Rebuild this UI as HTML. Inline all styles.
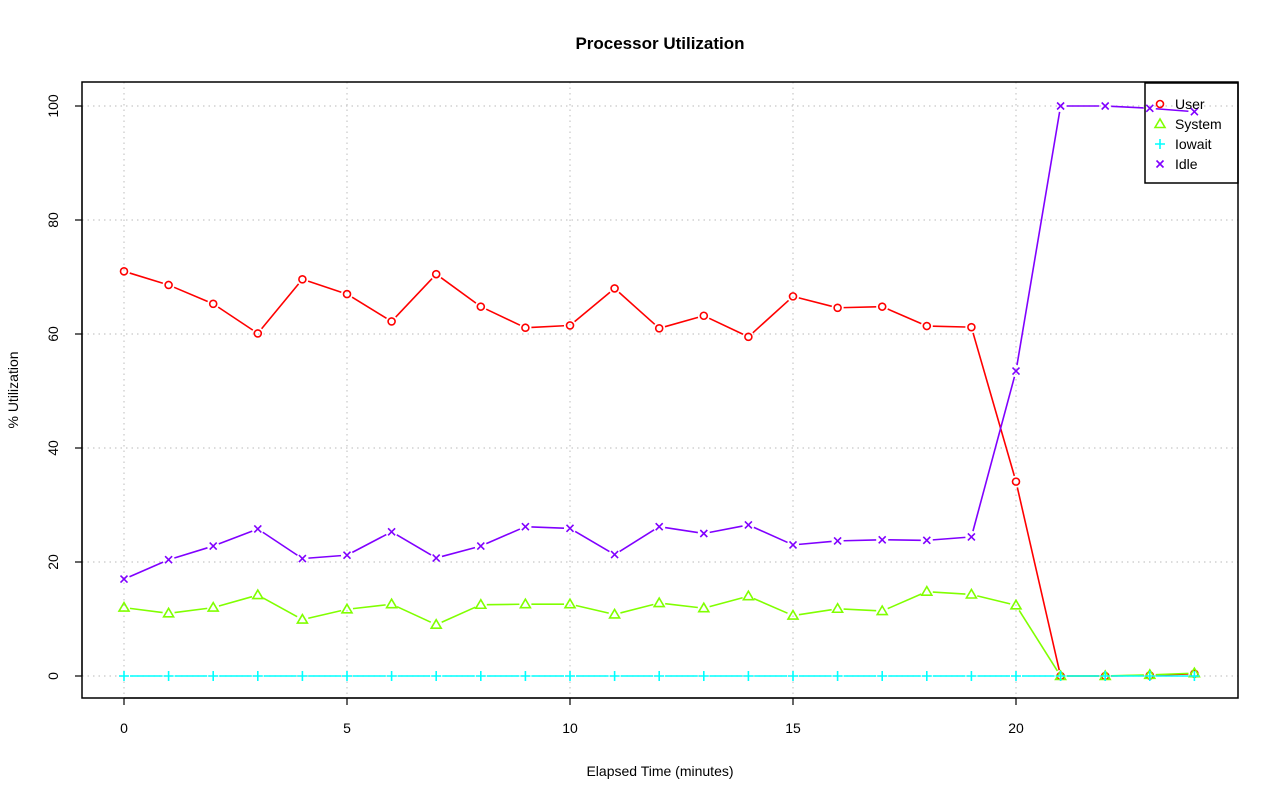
<!DOCTYPE html>
<html><head><meta charset="utf-8"><style>body{margin:0;background:#fff}svg{display:block}text{font-family:"Liberation Sans",sans-serif}</style></head>
<body>
<svg id="s" width="1280" height="801" xmlns="http://www.w3.org/2000/svg">
<rect width="1280" height="801" fill="#fff"/>
<g id="grid" stroke="#c8c8c8" stroke-dasharray="1.5,4" stroke-width="1.2"></g>
<g id="data"></g>
<rect x="82" y="82" width="1156" height="616" fill="none" stroke="#000" stroke-width="1.5"/>
<text x="660" y="49" font-size="17" font-weight="bold" text-anchor="middle">Processor Utilization</text>
<text x="660" y="776" font-size="14" text-anchor="middle">Elapsed Time (minutes)</text>
<text transform="translate(18,390) rotate(-90)" font-size="14" text-anchor="middle">% Utilization</text>
<g font-size="14" text-anchor="middle">
<text x="124" y="733">0</text><text x="347" y="733">5</text><text x="570" y="733">10</text><text x="793" y="733">15</text><text x="1016" y="733">20</text>
</g>
<g font-size="14" text-anchor="middle">
<text transform="translate(58,676) rotate(-90)">0</text>
<text transform="translate(58,562) rotate(-90)">20</text>
<text transform="translate(58,448) rotate(-90)">40</text>
<text transform="translate(58,334) rotate(-90)">60</text>
<text transform="translate(58,220) rotate(-90)">80</text>
<text transform="translate(58,106) rotate(-90)">100</text>
</g>
<g stroke="#000" stroke-width="1.2">
<line x1="124" y1="698" x2="1016" y2="698"/>
<line x1="124" y1="698" x2="124" y2="705"/><line x1="347" y1="698" x2="347" y2="705"/><line x1="570" y1="698" x2="570" y2="705"/><line x1="793" y1="698" x2="793" y2="705"/><line x1="1016" y1="698" x2="1016" y2="705"/>
<line x1="82" y1="106" x2="82" y2="676"/>
<line x1="75" y1="676" x2="82" y2="676"/><line x1="75" y1="562" x2="82" y2="562"/><line x1="75" y1="448" x2="82" y2="448"/><line x1="75" y1="334" x2="82" y2="334"/><line x1="75" y1="220" x2="82" y2="220"/><line x1="75" y1="106" x2="82" y2="106"/>
</g>
<g id="legend">
<rect x="1145" y="83" width="93" height="100" fill="none" stroke="#000" stroke-width="1.5"/>
<g font-size="14"><text x="1175" y="109">User</text><text x="1175" y="129">System</text><text x="1175" y="149">Iowait</text><text x="1175" y="169">Idle</text></g>
<g id="lsym"></g>
</g>
</svg>
<script>
const NS="http://www.w3.org/2000/svg";
const X=i=>124+i*44.6, Y=v=>676-v*5.7;
const g=document.getElementById('grid');
function el(p,t,a){const e=document.createElementNS(NS,t);for(const k in a)e.setAttribute(k,a[k]);p.appendChild(e);return e;}
[0,5,10,15,20].forEach(i=>el(g,'line',{x1:X(i),y1:82,x2:X(i),y2:698}));
[0,20,40,60,80,100].forEach(v=>el(g,'line',{x1:82,y1:Y(v),x2:1238,y2:Y(v)}));
const S=[
{c:'#ff0000',m:'o',d:[71,68.6,65.3,60.1,69.6,67,62.2,70.5,64.8,61.1,61.5,68,61,63.2,59.5,66.6,64.6,64.8,61.4,61.2,34.1,0,0,0.1,0.4]},
{c:'#80ff00',m:'t',d:[12,11,12,14.2,9.9,11.7,12.6,9,12.5,12.6,12.6,10.8,12.8,11.9,14,10.6,11.8,11.4,14.8,14.3,12.4,0,0,0.2,0.5]},
{c:'#00ffff',m:'p',d:Array(25).fill(0)},
{c:'#8000ff',m:'x',d:[17,20.4,22.8,25.8,20.6,21.2,25.3,20.7,22.8,26.2,25.9,21.3,26.2,25,26.5,23,23.7,23.9,23.8,24.4,53.5,100,100,99.6,99]}];
const D=document.getElementById('data');
function mark(p,m,x,y,c){const a={fill:'none',stroke:c,'stroke-width':1.6};
 if(m=='o')el(p,'circle',Object.assign({cx:x,cy:y,r:3.5},a));
 else if(m=='t')el(p,'polygon',Object.assign({points:`${x},${y-5} ${x-5},${y+3.5} ${x+5},${y+3.5}`},a));
 else if(m=='p'){el(p,'path',Object.assign({d:`M${x-5},${y}H${x+5}M${x},${y-5}V${y+5}`},a));}
 else el(p,'path',Object.assign({d:`M${x-3.5},${y-3.5}L${x+3.5},${y+3.5}M${x-3.5},${y+3.5}L${x+3.5},${y-3.5}`},a));}
S.forEach(s=>{
 for(let i=0;i<24;i++){const x1=X(i),y1=Y(s.d[i]),x2=X(i+1),y2=Y(s.d[i+1]);const L=Math.hypot(x2-x1,y2-y1),g=6;
  if(L>2*g){const ux=(x2-x1)/L,uy=(y2-y1)/L;el(D,'line',{x1:x1+ux*g,y1:y1+uy*g,x2:x2-ux*g,y2:y2-uy*g,stroke:s.c,'stroke-width':1.6});}}
 s.d.forEach((v,i)=>mark(D,s.m,X(i),Y(v),s.c));
});
const ls=document.getElementById('lsym');
S.forEach((s,k)=>mark(ls,s.m,1160,104+k*20,s.c));
</script>
</body></html>
